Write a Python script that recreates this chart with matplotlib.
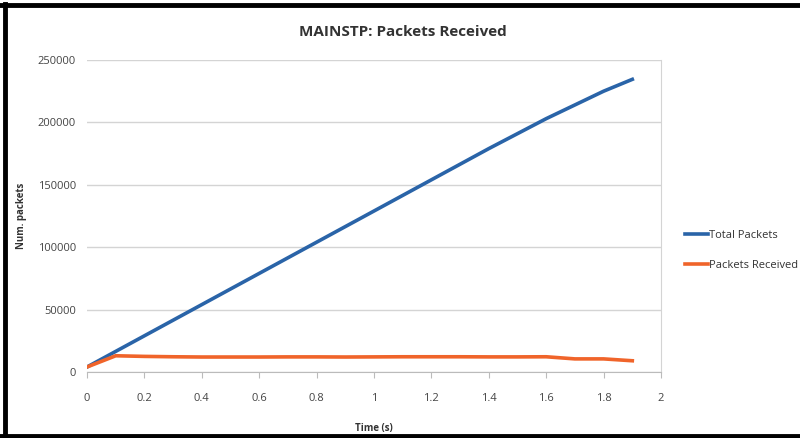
import matplotlib.pyplot as plt
from matplotlib.lines import Line2D

plt.rcParams['font.family'] = ['Open Sans', 'DejaVu Sans']

time_s = [0.0, 0.1, 0.2, 0.3, 0.4, 0.5, 0.6, 0.7, 0.8, 0.9, 1.0,
          1.1, 1.2, 1.3, 1.4, 1.5, 1.6, 1.7, 1.8, 1.9]
total_packets = [4000, 16500, 29000, 41500, 54000, 66500, 79000, 91500, 104000, 116500, 129000,
                 141500, 154000, 166500, 179000, 191000, 203000, 214000, 225000, 234500]
packets_received = [4000, 13000, 12500, 12200, 12000, 12000, 12000, 12100, 12100, 12000, 12100,
                    12200, 12200, 12200, 12100, 12100, 12200, 10500, 10500, 9000]

fig = plt.figure(figsize=(8, 4.38), dpi=100)
ax = fig.add_axes([0.10875, 0.1507, 0.7175, 0.7123])

ax.plot(time_s, total_packets, color='#2a64a8', lw=2.6, label='Total Packets')
ax.plot(time_s, packets_received, color='#f0642a', lw=2.6, label='Packets Received')

ax.set_xlim(0, 2)
ax.set_ylim(0, 250000)
ax.set_xticks([0, 0.2, 0.4, 0.6, 0.8, 1.0, 1.2, 1.4, 1.6, 1.8, 2.0])
ax.set_xticklabels(['0', '0.2', '0.4', '0.6', '0.8', '1', '1.2', '1.4', '1.6', '1.8', '2'])
ax.set_yticks(range(0, 250001, 50000))
ax.tick_params(axis='both', labelsize=8, colors='#555555', labelcolor='#444444')
ax.tick_params(axis='x', length=4, direction='out', pad=11, color='#bbbbbb')
ax.tick_params(axis='y', length=0, pad=8)
ax.yaxis.grid(True, color='#d4d4d4', lw=1)
ax.set_axisbelow(True)
for side in ['top', 'left']:
    ax.spines[side].set_visible(False)
ax.spines['right'].set_color('#d4d4d4')
ax.spines['bottom'].set_color('#bbbbbb')

# title sits centred on the whole figure, not the axes
fig.text(0.504, 0.928, 'MAINSTP: Packets Received', ha='center', va='center',
         fontsize=11, fontweight='bold', color='#333333')
ax.set_xlabel('Time (s)', fontsize=7, fontweight='bold', color='#333333', labelpad=14)
ax.set_ylabel('Num. packets', fontsize=7, fontweight='bold', color='#333333', labelpad=8)

ax.legend(loc='center left', bbox_to_anchor=(1.025, 0.39), frameon=False, fontsize=8,
          handlelength=2.0, handletextpad=0.15, labelspacing=1.75, labelcolor='#333333')

# black frame along the left, top and bottom edges
for xs, ys in [([0.006, 0.006], [0, 0.99]), ([0.0, 1.0], [0.988, 0.988]), ([0.0, 1.0], [0.004, 0.004])]:
    fig.add_artist(Line2D(xs, ys, color='black', lw=3.5, transform=fig.transFigure))

fig.savefig('out.png', dpi=100)
